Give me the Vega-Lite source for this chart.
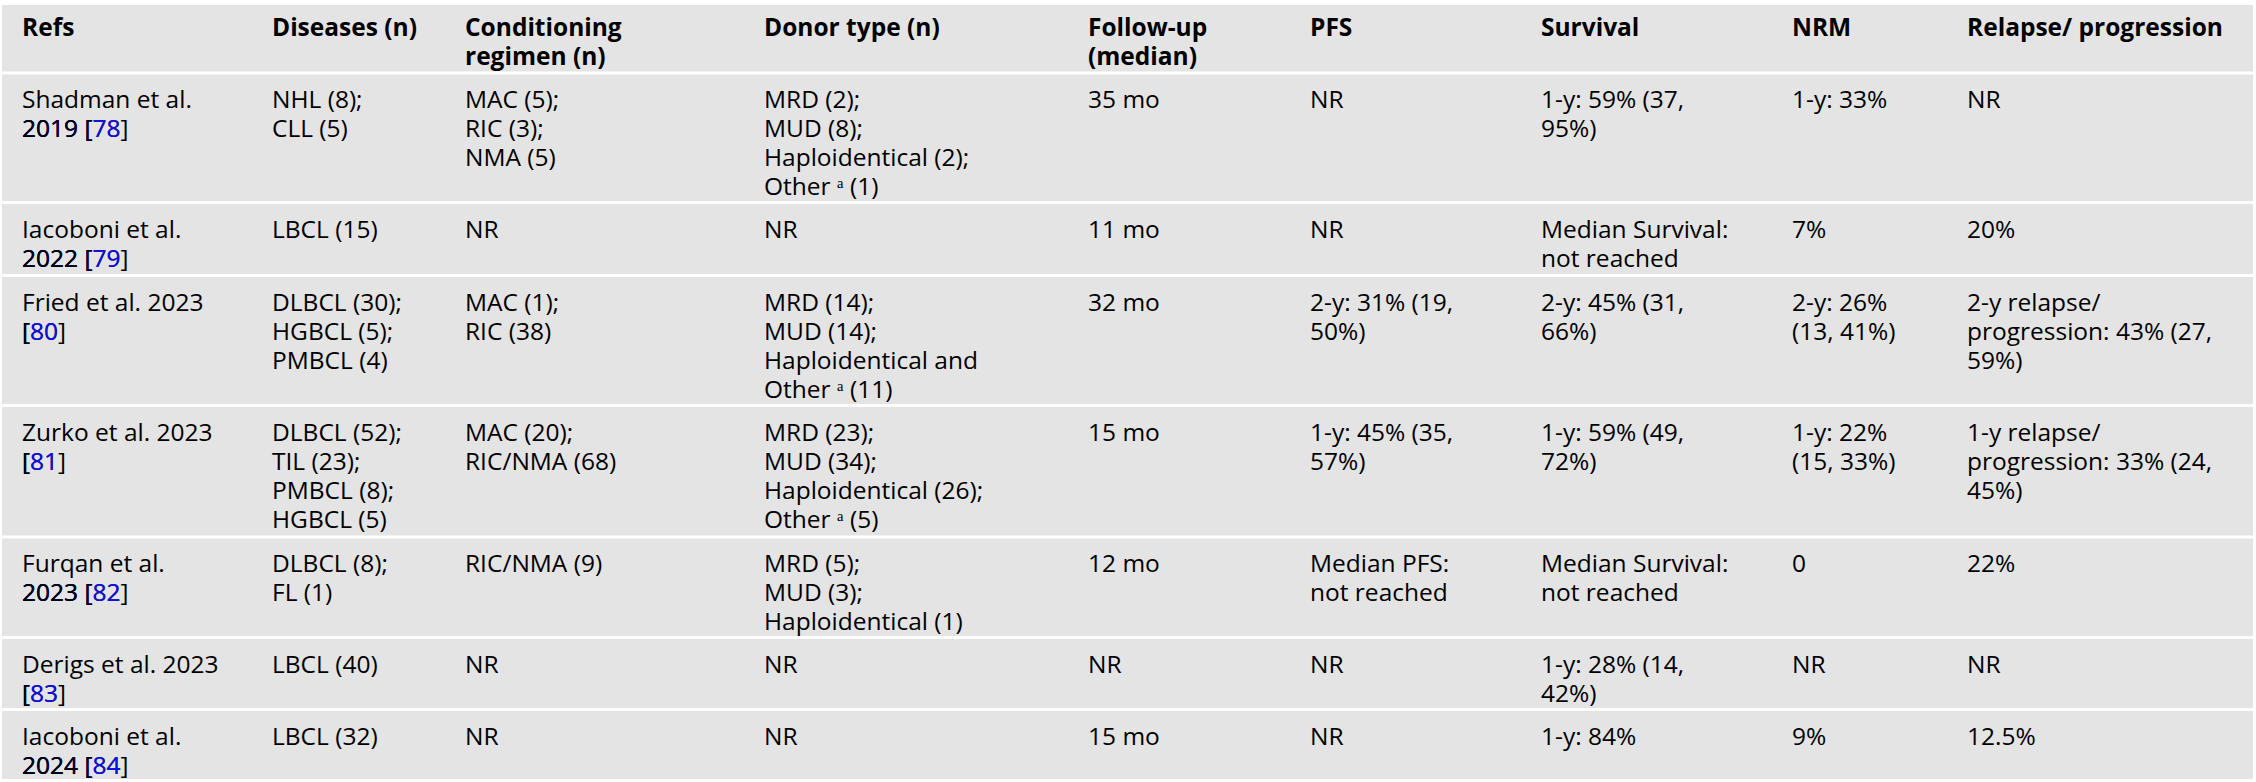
{
  "$schema": "https://vega.github.io/schema/vega-lite/v6.json",
  "width": 2251,
  "height": 774,
  "autosize": {"type": "none"},
  "padding": {"left": 2, "top": 5, "right": 3, "bottom": 3},
  "background": "#ffffff",
  "view": {"fill": "#e4e4e4", "stroke": null},
  "data": {
    "values": [
      {"r": 0, "c": 0, "t": "Refs"},
      {"r": 0, "c": 1, "t": "Diseases (n)"},
      {"r": 0, "c": 2, "t": "Conditioning\nregimen (n)"},
      {"r": 0, "c": 3, "t": "Donor type (n)"},
      {"r": 0, "c": 4, "t": "Follow-up\n(median)"},
      {"r": 0, "c": 5, "t": "PFS"},
      {"r": 0, "c": 6, "t": "Survival"},
      {"r": 0, "c": 7, "t": "NRM"},
      {"r": 0, "c": 8, "t": "Relapse/ progression"},

      {"r": 1, "c": 0, "t": "Shadman et al.\n2019 [78]", "tb": "\n2019 [78", "tk": "\n2019 ["},
      {"r": 1, "c": 1, "t": "NHL (8);\nCLL (5)"},
      {"r": 1, "c": 2, "t": "MAC (5);\nRIC (3);\nNMA (5)"},
      {"r": 1, "c": 3, "t": "MRD (2);\nMUD (8);\nHaploidentical (2);\nOther ᵃ (1)"},
      {"r": 1, "c": 4, "t": "35 mo"},
      {"r": 1, "c": 5, "t": "NR"},
      {"r": 1, "c": 6, "t": "1-y: 59% (37,\n95%)"},
      {"r": 1, "c": 7, "t": "1-y: 33%"},
      {"r": 1, "c": 8, "t": "NR"},

      {"r": 2, "c": 0, "t": "Iacoboni et al.\n2022 [79]", "tb": "\n2022 [79", "tk": "\n2022 ["},
      {"r": 2, "c": 1, "t": "LBCL (15)"},
      {"r": 2, "c": 2, "t": "NR"},
      {"r": 2, "c": 3, "t": "NR"},
      {"r": 2, "c": 4, "t": "11 mo"},
      {"r": 2, "c": 5, "t": "NR"},
      {"r": 2, "c": 6, "t": "Median Survival:\nnot reached"},
      {"r": 2, "c": 7, "t": "7%"},
      {"r": 2, "c": 8, "t": "20%"},

      {"r": 3, "c": 0, "t": "Fried et al. 2023\n[80]", "tb": "\n[80", "tk": "\n["},
      {"r": 3, "c": 1, "t": "DLBCL (30);\nHGBCL (5);\nPMBCL (4)"},
      {"r": 3, "c": 2, "t": "MAC (1);\nRIC (38)"},
      {"r": 3, "c": 3, "t": "MRD (14);\nMUD (14);\nHaploidentical and\nOther ᵃ (11)"},
      {"r": 3, "c": 4, "t": "32 mo"},
      {"r": 3, "c": 5, "t": "2-y: 31% (19,\n50%)"},
      {"r": 3, "c": 6, "t": "2-y: 45% (31,\n66%)"},
      {"r": 3, "c": 7, "t": "2-y: 26%\n(13, 41%)"},
      {"r": 3, "c": 8, "t": "2-y relapse/\nprogression: 43% (27,\n59%)"},

      {"r": 4, "c": 0, "t": "Zurko et al. 2023\n[81]", "tb": "\n[81", "tk": "\n["},
      {"r": 4, "c": 1, "t": "DLBCL (52);\nTIL (23);\nPMBCL (8);\nHGBCL (5)"},
      {"r": 4, "c": 2, "t": "MAC (20);\nRIC/NMA (68)"},
      {"r": 4, "c": 3, "t": "MRD (23);\nMUD (34);\nHaploidentical (26);\nOther ᵃ (5)"},
      {"r": 4, "c": 4, "t": "15 mo"},
      {"r": 4, "c": 5, "t": "1-y: 45% (35,\n57%)"},
      {"r": 4, "c": 6, "t": "1-y: 59% (49,\n72%)"},
      {"r": 4, "c": 7, "t": "1-y: 22%\n(15, 33%)"},
      {"r": 4, "c": 8, "t": "1-y relapse/\nprogression: 33% (24,\n45%)"},

      {"r": 5, "c": 0, "t": "Furqan et al.\n2023 [82]", "tb": "\n2023 [82", "tk": "\n2023 ["},
      {"r": 5, "c": 1, "t": "DLBCL (8);\nFL (1)"},
      {"r": 5, "c": 2, "t": "RIC/NMA (9)"},
      {"r": 5, "c": 3, "t": "MRD (5);\nMUD (3);\nHaploidentical (1)"},
      {"r": 5, "c": 4, "t": "12 mo"},
      {"r": 5, "c": 5, "t": "Median PFS:\nnot reached"},
      {"r": 5, "c": 6, "t": "Median Survival:\nnot reached"},
      {"r": 5, "c": 7, "t": "0"},
      {"r": 5, "c": 8, "t": "22%"},

      {"r": 6, "c": 0, "t": "Derigs et al. 2023\n[83]", "tb": "\n[83", "tk": "\n["},
      {"r": 6, "c": 1, "t": "LBCL (40)"},
      {"r": 6, "c": 2, "t": "NR"},
      {"r": 6, "c": 3, "t": "NR"},
      {"r": 6, "c": 4, "t": "NR"},
      {"r": 6, "c": 5, "t": "NR"},
      {"r": 6, "c": 6, "t": "1-y: 28% (14,\n42%)"},
      {"r": 6, "c": 7, "t": "NR"},
      {"r": 6, "c": 8, "t": "NR"},

      {"r": 7, "c": 0, "t": "Iacoboni et al.\n2024 [84]", "tb": "\n2024 [84", "tk": "\n2024 ["},
      {"r": 7, "c": 1, "t": "LBCL (32)"},
      {"r": 7, "c": 2, "t": "NR"},
      {"r": 7, "c": 3, "t": "NR"},
      {"r": 7, "c": 4, "t": "15 mo"},
      {"r": 7, "c": 5, "t": "NR"},
      {"r": 7, "c": 6, "t": "1-y: 84%"},
      {"r": 7, "c": 7, "t": "9%"},
      {"r": 7, "c": 8, "t": "12.5%"}
    ]
  },
  "encoding": {
    "y": {
      "field": "r",
      "type": "quantitative",
      "scale": {"domain": [0, 1, 2, 3, 4, 5, 6, 7], "range": [-4, 68, 197.5, 270.5, 400.5, 532, 632.5, 704.5], "zero": false, "nice": false},
      "axis": null
    }
  },
  "layer": [
    {
      "transform": [{"filter": "datum.r >= 1 && datum.c == 0"}],
      "mark": {"type": "rule", "color": "#ffffff", "strokeWidth": 3},
      "encoding": {}
    },
    {
      "transform": [{"filter": "datum.r >= 1"}],
      "mark": {"type": "text", "align": "left", "baseline": "alphabetic", "dy": 35, "font": "Open Sans", "fontSize": 24.5, "lineHeight": 29, "lineBreak": "\n", "color": "#000000"},
      "encoding": {
        "x": {"field": "c", "type": "quantitative", "scale": {"domain": [0, 1, 2, 3, 4, 5, 6, 7, 8], "range": [20, 270, 463, 762, 1086, 1308, 1539, 1790, 1965], "zero": false, "nice": false}, "axis": null},
        "text": {"field": "t"}
      }
    },
    {
      "transform": [{"filter": "datum.r == 0"}],
      "mark": {"type": "text", "align": "left", "baseline": "alphabetic", "dy": 35, "font": "Open Sans", "fontSize": 24.5, "fontWeight": "bold", "lineHeight": 29, "lineBreak": "\n", "color": "#000000"},
      "encoding": {
        "x": {"field": "c", "type": "quantitative", "axis": null},
        "text": {"field": "t"}
      }
    },
    {
      "transform": [{"filter": "isValid(datum.tb)"}],
      "mark": {"type": "text", "align": "left", "baseline": "alphabetic", "dy": 35, "font": "Open Sans", "fontSize": 24.5, "lineHeight": 29, "lineBreak": "\n", "color": "#1010e6"},
      "encoding": {
        "x": {"field": "c", "type": "quantitative", "axis": null},
        "text": {"field": "tb"}
      }
    },
    {
      "transform": [{"filter": "isValid(datum.tk)"}],
      "mark": {"type": "text", "align": "left", "baseline": "alphabetic", "dy": 35, "font": "Open Sans", "fontSize": 24.5, "lineHeight": 29, "lineBreak": "\n", "color": "#000000"},
      "encoding": {
        "x": {"field": "c", "type": "quantitative", "axis": null},
        "text": {"field": "tk"}
      }
    }
  ]
}
